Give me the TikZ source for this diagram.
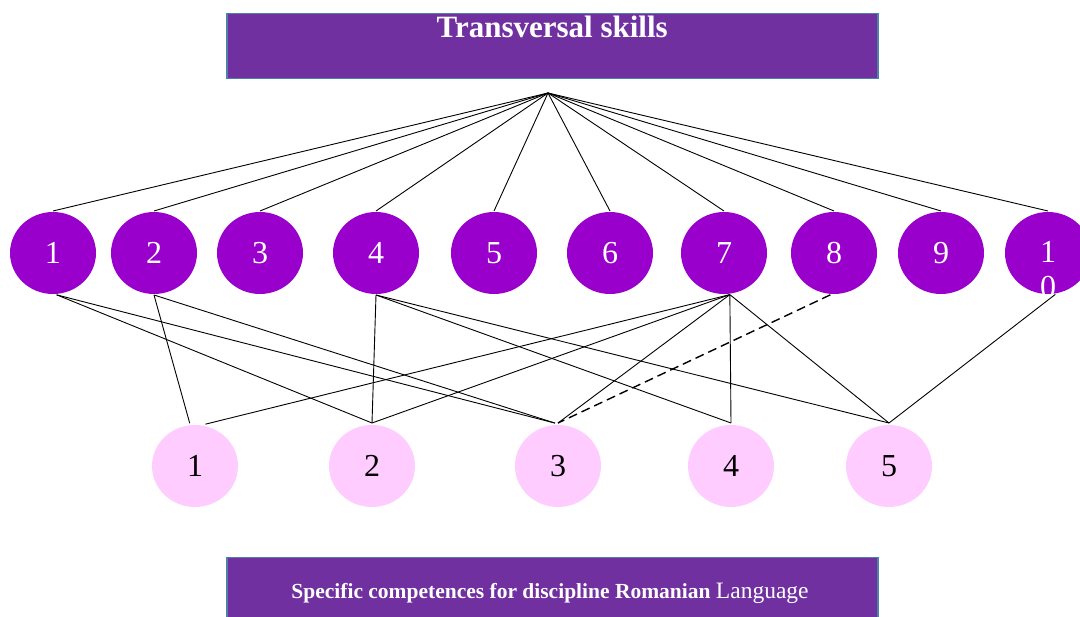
\documentclass[tikz,border=0pt]{standalone}
\usepackage{fontspec}
\setmainfont{Liberation Serif}
\usetikzlibrary{shapes.geometric,calc}
\definecolor{boxpurple}{HTML}{7030A0}
\definecolor{boxedge}{HTML}{4F81A8}
\definecolor{topfill}{HTML}{9900CC}
\definecolor{botfill}{HTML}{FFCCFF}
\begin{document}
\begin{tikzpicture}[x=1pt,y=-1pt,
  skillc/.style={ellipse, fill=topfill, minimum width=86pt, minimum height=82pt, inner sep=0pt, outer sep=1pt, text=white, font=\fontsize{32}{35}\selectfont},
  compc/.style={ellipse, fill=botfill, minimum width=86pt, minimum height=82pt, inner sep=0pt, outer sep=2pt, text=black, font=\fontsize{32}{35}\selectfont},
  banner/.style={draw=boxedge, line width=1.5pt, fill=boxpurple, anchor=north west, minimum width=651pt, inner sep=0pt},
  link/.style={black, line width=0.9pt},
  dlink/.style={black, line width=1.4pt, dash pattern=on 9pt off 5pt}]
\useasboundingbox (0,0) rectangle (1080,617);
\clip (0,0) rectangle (1080,617);

% banners
\node[banner, minimum height=65pt] (title) at (226,13) {};
\node[text=white, font=\fontsize{31}{36}\selectfont\bfseries, anchor=base] (titletext) at ($(title.north)+(0,25)$) {Transversal skills};
\node[banner, minimum height=80pt] (footer) at (226,557) {};
\node[text=white, font=\fontsize{21.5}{26}\selectfont, anchor=base] (footertext) at (550,598.5) {\bfseries Specific competences for discipline Romanian {\mdseries\fontsize{23.5}{28}\selectfont Language}};

\coordinate (apex) at (548,93);

% transversal skills
\node[skillc] (t1) at (53,253) {1};
\node[skillc] (t2) at (154,253) {2};
\node[skillc] (t3) at (260,253) {3};
\node[skillc] (t4) at (376,253) {4};
\node[skillc] (t5) at (494,253) {5};
\node[skillc] (t6) at (610,253) {6};
\node[skillc] (t7) at (724,253) {7};
\node[skillc] (t8) at (834,253) {8};
\node[skillc] (t9) at (941,253) {9};
\node[skillc] (t10) at (1048,253) {};
\node[text=white, font=\fontsize{32}{35}\selectfont, align=center, inner sep=0pt] (t10text) at (1048,270) {1\\0};

% specific competences
\node[compc] (b1) at (195,466) {1};
\node[compc] (b2) at (372,466) {2};
\node[compc] (b3) at (558,466) {3};
\node[compc] (b4) at (731,466) {4};
\node[compc] (b5) at (889,466) {5};

% apex links
\foreach \i in {1,...,10} {\draw[link] (apex) -- (t\i.north);}

% lower links
\draw[link] (t1.-85) -- (b2.north);
\draw[link] (t1.-85) -- (b3.94);
\draw[link] (t2.south) -- (b1.97);
\draw[link] (t2.south) -- (b3.94);
\draw[link] (t4.south) -- (b2.north);
\draw[link] (t4.south) -- (b4.north);
\draw[link] (t4.south) -- (b5.north);
\draw[link] (t7.-82) -- (b1.76);
\draw[link] (t7.-82) -- (b2.north);
\draw[link] (t7.-82) -- (b3.north);
\draw[link] (t7.-82) -- (b4.north);
\draw[link] (t7.-82) -- (b5.north);
\draw[dlink] (t8.-95) -- (b3.north);
\draw[link] (t10.-80) -- (b5.north);
\end{tikzpicture}
\end{document}
